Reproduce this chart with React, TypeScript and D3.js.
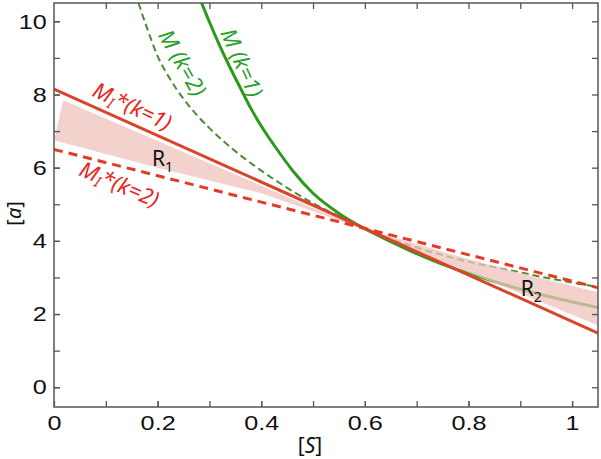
import React, { useEffect, useRef } from 'react';
import * as d3 from 'd3';

// axis ticks
const xMajor = [0, 0.2, 0.4, 0.6, 0.8, 1];
const xMajorLabels = ['0', '0.2', '0.4', '0.6', '0.8', '1'];
const xAll = [0.1, 0.2, 0.3, 0.4, 0.5, 0.6, 0.7, 0.8, 0.9, 1.0];
const yMajor = [0, 2, 4, 6, 8, 10];
const yAll = [0, 1, 2, 3, 4, 5, 6, 7, 8, 9, 10];

// M_I*(k=1) and M_I*(k=2): straight lines
const miK1S = [0, 1.05];
const miK1A = [8.15, 1.48];
const miK2S = [0, 1.05];
const miK2A = [6.5, 2.72];

// M(k=1), solid green
const mK1S = [0.285, 0.3, 0.32, 0.34, 0.36, 0.38, 0.4, 0.43, 0.46, 0.5, 0.55, 0.6, 0.65, 0.7, 0.75, 0.8, 0.85, 0.9, 0.95, 1.0, 1.05];
const mK1A = [10.5, 9.98, 9.33, 8.73, 8.17, 7.62, 7.14, 6.51, 5.93, 5.3, 4.75, 4.33, 3.98, 3.65, 3.36, 3.12, 2.89, 2.68, 2.5, 2.33, 2.18];

// M(k=2), dashed green
const mK2S = [0.163, 0.18, 0.2, 0.225, 0.25, 0.275, 0.3, 0.35, 0.4, 0.45, 0.5, 0.55, 0.6, 0.65, 0.7, 0.75, 0.8, 0.85, 0.9, 0.95, 1.0, 1.05];
const mK2A = [10.5, 9.8, 9.05, 8.4, 7.88, 7.45, 7.08, 6.45, 5.92, 5.45, 5.03, 4.67, 4.33, 4.06, 3.82, 3.61, 3.43, 3.28, 3.14, 2.99, 2.86, 2.74];

// shaded regions (outline, clockwise)
const r1S = [0.018, 0.3, 0.5, 0.6, 0.4, 0.2, 0.0];
const r1A = [7.84, 6.12, 4.9, 4.32, 5.3, 6.0, 6.75];
const r2S = [0.62, 0.75, 0.9, 1.048, 1.048, 0.85, 0.7];
const r2A = [4.25, 3.7, 3.12, 2.6, 1.7, 2.85, 3.7];

const W = 601;
const H = 459;
const margin = { top: 3, right: 3, bottom: 52, left: 54 };

const App = () => {
  const svgRef = useRef(null);

  useEffect(() => {
    const svg = d3.select(svgRef.current);
    svg.selectAll('*').remove();

    const x = d3.scaleLinear().domain([0, 1.05]).range([margin.left, W - margin.right]);
    const y = d3.scaleLinear().domain([-0.54, 10.5]).range([H - margin.bottom, margin.top]);

    svg.append('clipPath')
      .attr('id', 'plot-clip')
      .append('rect')
      .attr('x', margin.left)
      .attr('y', margin.top)
      .attr('width', W - margin.left - margin.right)
      .attr('height', H - margin.top - margin.bottom);

    const plot = svg.append('g').attr('clip-path', 'url(#plot-clip)');

    const pts = (s, a) => s.map((v, i) => [v, a[i]]);
    const curve = d3.line().x(d => x(d[0])).y(d => y(d[1])).curve(d3.curveMonotoneX);
    const straight = d3.line().x(d => x(d[0])).y(d => y(d[1]));

    // green curves first, pink on top of them
    plot.append('path')
      .attr('d', curve(pts(mK1S, mK1A)))
      .attr('fill', 'none')
      .attr('stroke', '#2b9a1c')
      .attr('stroke-width', 3);

    plot.append('path')
      .attr('d', curve(pts(mK2S, mK2A)))
      .attr('fill', 'none')
      .attr('stroke', '#4f8a35')
      .attr('stroke-width', 2)
      .attr('stroke-dasharray', '7,4');

    [[r1S, r1A], [r2S, r2A]].forEach(([s, a]) => {
      plot.append('path')
        .attr('d', straight(pts(s, a)) + 'Z')
        .attr('fill', '#efc3be')
        .attr('fill-opacity', 0.75);
    });

    plot.append('path')
      .attr('d', straight(pts(miK1S, miK1A)))
      .attr('fill', 'none')
      .attr('stroke', '#d9442b')
      .attr('stroke-width', 3);

    plot.append('path')
      .attr('d', straight(pts(miK2S, miK2A)))
      .attr('fill', 'none')
      .attr('stroke', '#e23b26')
      .attr('stroke-width', 3)
      .attr('stroke-dasharray', '9,6');

    // axes, ticks pointing inward
    const tickFont = '"Liberation Sans", Arial, sans-serif';
    const bottom = svg.append('g')
      .attr('transform', `translate(0,${H - margin.bottom})`)
      .call(d3.axisBottom(x).tickValues(xMajor).tickFormat((d, i) => xMajorLabels[i])
        .tickSizeInner(-6).tickSizeOuter(0).tickPadding(8));
    svg.append('g')
      .attr('transform', `translate(0,${H - margin.bottom})`)
      .call(d3.axisBottom(x).tickValues(xAll).tickFormat(() => '').tickSizeInner(-6).tickSizeOuter(0));
    svg.append('g')
      .attr('transform', `translate(0,${margin.top})`)
      .call(d3.axisTop(x).tickValues(xAll).tickFormat(() => '').tickSizeInner(-6).tickSizeOuter(0));
    const left = svg.append('g')
      .attr('transform', `translate(${margin.left},0)`)
      .call(d3.axisLeft(y).tickValues(yMajor).tickSizeInner(-6).tickSizeOuter(0).tickPadding(6));
    svg.append('g')
      .attr('transform', `translate(${margin.left},0)`)
      .call(d3.axisLeft(y).tickValues(yAll).tickFormat(() => '').tickSizeInner(-6).tickSizeOuter(0));
    svg.append('g')
      .attr('transform', `translate(${W - margin.right},0)`)
      .call(d3.axisRight(y).tickValues(yAll).tickFormat(() => '').tickSizeInner(-6).tickSizeOuter(0));

    svg.selectAll('.domain').remove();
    svg.selectAll('.tick line').attr('stroke', '#555').attr('stroke-width', 1.3);
    [bottom, left].forEach(g => {
      g.selectAll('text')
        .attr('font-family', tickFont)
        .attr('font-size', 21)
        .attr('fill', '#111')
        .attr('transform', 'scale(1.2,1)');
    });

    svg.append('rect')
      .attr('x', margin.left)
      .attr('y', margin.top)
      .attr('width', W - margin.left - margin.right)
      .attr('height', H - margin.top - margin.bottom)
      .attr('fill', 'none')
      .attr('stroke', '#555')
      .attr('stroke-width', 1.5);

    // axis titles
    const titleFont = '"Noto Sans", sans-serif';
    const xt = svg.append('text')
      .attr('x', x(0.494))
      .attr('y', H - 6)
      .attr('text-anchor', 'middle')
      .attr('font-family', titleFont)
      .attr('font-size', 21)
      .attr('fill', '#111');
    xt.append('tspan').text('[');
    xt.append('tspan').attr('font-style', 'italic').text('S');
    xt.append('tspan').text(']');

    const yt = svg.append('text')
      .attr('transform', `translate(21,${y(4.75)}) rotate(-90)`)
      .attr('text-anchor', 'middle')
      .attr('font-family', titleFont)
      .attr('font-size', 20)
      .attr('fill', '#111');
    yt.append('tspan').text('[');
    yt.append('tspan').attr('font-style', 'italic').text('a');
    yt.append('tspan').text(']');

    // curve annotations
    const labelFont = '"Noto Sans", sans-serif';
    const green = '#2aa02a';
    const red = '#e8261c';

    const rotated = (sx, ay, angle, color, size) => svg.append('text')
      .attr('transform', `translate(${x(sx)},${y(ay)}) rotate(${angle})`)
      .attr('text-anchor', 'middle')
      .attr('dominant-baseline', 'central')
      .attr('font-family', labelFont)
      .attr('font-style', 'italic')
      .attr('font-size', size)
      .attr('fill', color);

    rotated(0.365, 8.88, 66, green, 22).text('M (k=1)');
    rotated(0.25, 8.88, 60, green, 22).text('M (k=2)');

    const mi1 = rotated(0.152, 7.71, 25, red, 22);
    mi1.append('tspan').text('M');
    mi1.append('tspan').attr('font-size', 15).attr('dy', 7).text('I');
    mi1.append('tspan').attr('dy', -7).text('*(k=1)');

    const mi2 = rotated(0.127, 5.58, 23, red, 22);
    mi2.append('tspan').text('M');
    mi2.append('tspan').attr('font-size', 15).attr('dy', 7).text('I');
    mi2.append('tspan').attr('dy', -7).text('*(k=2)');

    [[0.189, 6.04, '1'], [0.901, 2.49, '2']].forEach(([sx, ay, sub]) => {
      const t = svg.append('text')
        .attr('x', x(sx))
        .attr('y', y(ay))
        .attr('font-family', labelFont)
        .attr('font-size', 21)
        .attr('fill', '#111');
      t.append('tspan').text('R');
      t.append('tspan').attr('font-size', 14).attr('dy', 6).text(sub);
    });
  });

  return (
    <svg ref={svgRef} width={W} height={H}
      style={{ position: 'absolute', left: 0, top: 0, background: '#fff' }}></svg>
  );
};

export default App;
